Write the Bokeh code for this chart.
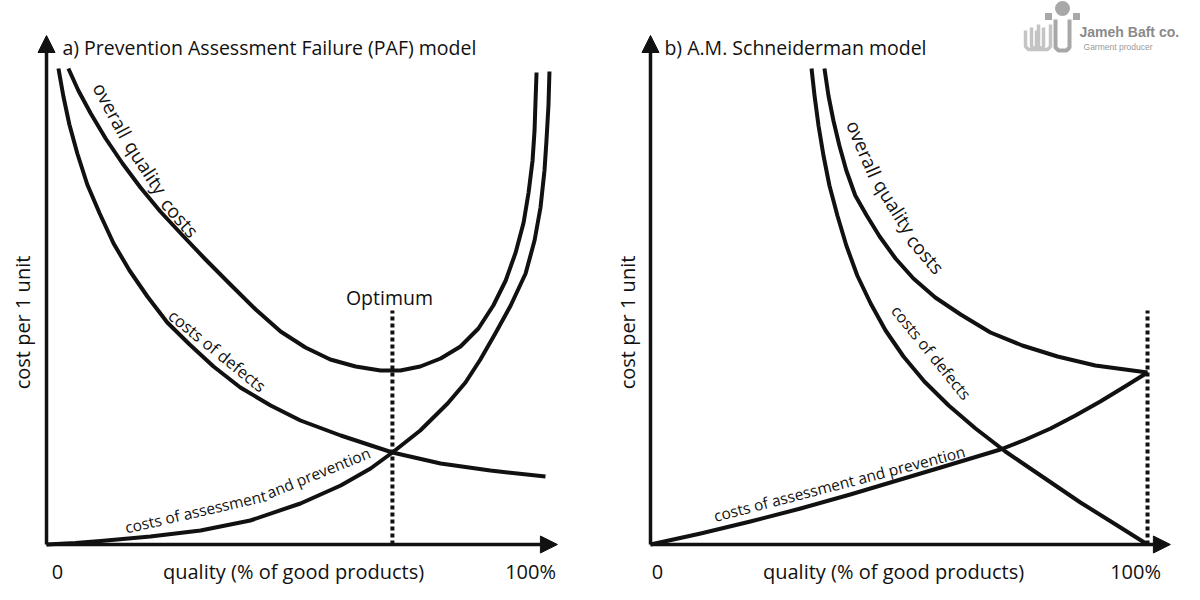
from bokeh.plotting import figure
from bokeh.models import Range1d, Arrow, NormalHead
from bokeh.layouts import row
from bokeh.embed import file_html
from bokeh.resources import INLINE
from bokeh.core.properties import value

FONT = "Open Sans"
INK = "#111111"

# ---------------- data (quality in %, cost in arbitrary units) ----------------
# Panel a) PAF model
a_defects_q = [2.4, 3.4, 4.6, 6.2, 8.2, 10.7, 13.5, 16.7, 20.3, 24.3, 28.8, 33.6, 39.0, 45.1, 51.1, 59.2, 69.6, 79.3, 89.3, 100.4]
a_defects_c = [95.2, 89.6, 84.0, 78.2, 72.0, 66.2, 60.2, 54.8, 49.6, 44.4, 40.0, 35.6, 31.4, 27.8, 24.8, 21.8, 18.4, 16.2, 14.8, 13.6]

a_overall_q = [4.4, 6.4, 8.9, 11.9, 15.3, 18.9, 22.9, 27.4, 32.0, 37.0, 42.1, 47.1, 52.1, 57.1, 62.2, 67.2, 71.2, 75.2, 79.3, 83.3, 86.9, 89.9, 92.4, 94.4, 96.0, 97.0, 97.8, 98.2, 98.4, 98.6]
a_overall_c = [95.2, 90.8, 86.2, 81.2, 76.2, 71.4, 66.6, 61.8, 57.0, 52.0, 47.0, 42.6, 39.4, 37.0, 35.6, 34.8, 34.8, 35.6, 37.2, 39.6, 43.2, 47.8, 52.8, 58.4, 64.4, 70.4, 76.8, 82.8, 88.8, 94.4]

a_assess_q = [0.0, 5.8, 10.9, 20.9, 31.0, 41.0, 51.1, 59.2, 65.2, 69.6, 75.2, 80.7, 84.3, 87.3, 90.3, 93.4, 96.4, 98.2, 99.4, 100.2, 100.6, 101.0, 101.2]
a_assess_c = [0.0, 0.3, 0.7, 1.6, 2.8, 4.8, 8.2, 11.8, 15.2, 18.4, 22.8, 28.2, 32.4, 37.0, 42.2, 47.8, 54.2, 60.8, 67.4, 74.8, 80.8, 87.8, 94.6]

a_optimum_q = 69.6

# Panel b) A.M. Schneiderman model
b_defects_q = [32.4, 33.0, 33.8, 34.8, 36.0, 37.6, 39.4, 41.6, 44.3, 47.3, 50.9, 55.1, 60.0, 65.4, 71.4, 78.5, 86.5, 93.6, 100.0]
b_defects_c = [95.2, 89.8, 83.8, 77.8, 71.8, 65.8, 59.8, 53.8, 48.2, 42.8, 37.6, 32.6, 27.8, 23.2, 18.6, 13.8, 8.4, 4.0, 0.0]

b_overall_q = [35.0, 35.8, 36.8, 38.0, 39.4, 41.2, 43.5, 46.1, 49.3, 52.9, 57.3, 62.4, 68.4, 74.8, 81.9, 89.5, 100.0]
b_overall_c = [95.2, 89.8, 84.8, 79.8, 74.8, 69.8, 65.8, 61.6, 57.2, 53.2, 49.4, 46.0, 42.4, 39.8, 37.6, 35.8, 34.4]

b_assess_q = [0.0, 10.1, 20.1, 30.2, 40.2, 50.3, 60.4, 70.4, 75.5, 80.5, 85.5, 90.5, 95.3, 100.0]
b_assess_c = [0.0, 2.2, 4.6, 7.2, 10.0, 13.0, 16.0, 19.0, 21.0, 23.2, 25.8, 28.6, 31.5, 34.4]

b_optimum_q = 100.0

# axis / label texts
titles = ["a) Prevention Assessment Failure (PAF) model", "b) A.M. Schneiderman model"]
y_title = "cost per 1 unit"
x_title = "quality (% of good products)"
x_ticks = ["0", "100%"]

# ---------------- layout ----------------
Y_RANGE = (-8.0, 108.8)
DOT_TOP = 46.8
ARROW_TOP = 101.8


def make_fig(xmin, xmax):
    p = figure(width=592, height=584, x_range=Range1d(xmin, xmax), y_range=Range1d(*Y_RANGE),
               output_backend="svg", toolbar_location=None,
               x_axis_location=None, y_axis_location=None,
               min_border=0, min_border_left=0, min_border_right=0,
               min_border_top=0, min_border_bottom=0)
    p.grid.visible = False
    p.outline_line_color = None
    p.background_fill_color = "white"
    p.border_fill_color = "white"
    return p


def axes(p, x_tip):
    for xe, ye in [(0, ARROW_TOP), (x_tip, 0)]:
        p.add_layout(Arrow(end=NormalHead(size=17, fill_color=INK, line_color=INK, line_width=1),
                           x_start=0, y_start=0, x_end=xe, y_end=ye,
                           line_width=3.5, line_color=INK))


def txt(p, x, y, s, size, angle=0, align="center", baseline="middle", color=INK,
        style="normal", font=FONT):
    p.text(x=[x], y=[y], text=[s], angle=[angle], angle_units="deg",
           text_font=value(font), text_font_size=f"{size}px", text_font_style=style,
           text_align=align, text_baseline=baseline, text_color=color)


LW = 4
DOT = dict(line_width=4, line_color=INK, line_dash="4 3")

# ---- panel a ----
pa = make_fig(-9.26, 109.86)
axes(pa, 102.8)
pa.line(a_defects_q, a_defects_c, line_width=LW, line_color=INK, line_join="round")
pa.line(a_overall_q, a_overall_c, line_width=LW, line_color=INK, line_join="round")
pa.line(a_assess_q, a_assess_c, line_width=LW, line_color=INK, line_join="round")
pa.line([a_optimum_q, a_optimum_q], [0, DOT_TOP], **DOT)

txt(pa, 3.2, 99.4, titles[0], 19.5, align="left")
txt(pa, -4.8, 44.4, y_title, 20, angle=90)
txt(pa, 2.2, -5.4, x_ticks[0], 20)
txt(pa, 49.7, -5.4, x_title, 20)
txt(pa, 97.4, -5.4, x_ticks[1], 20)
txt(pa, 69.0, 49.4, "Optimum", 19.5)
txt(pa, 13.2, 86.8, "overall", 19, angle=-62)
txt(pa, 20.0, 75.4, "quality", 19, angle=-57)
txt(pa, 26.8, 65.4, "costs", 19, angle=-49)
txt(pa, 34.4, 38.8, "costs of defects", 16.5, angle=-39)
txt(pa, 30.0, 6.6, "costs of assessment", 15.5, angle=13)
txt(pa, 54.7, 14.4, "and prevention", 15.5, angle=22)

# ---- panel b ----
pb = make_fig(-11.67, 107.44)
axes(pb, 104.6)
pb.line(b_defects_q, b_defects_c, line_width=LW, line_color=INK, line_join="round")
pb.line(b_overall_q, b_overall_c, line_width=LW, line_color=INK, line_join="round")
pb.line(b_assess_q, b_assess_c, line_width=LW, line_color=INK, line_join="round")
pb.line([b_optimum_q, b_optimum_q], [0, DOT_TOP], **DOT)

txt(pb, 2.8, 99.4, titles[1], 19.5, align="left")
txt(pb, -4.6, 44.4, y_title, 20, angle=90)
txt(pb, 1.4, -5.4, x_ticks[0], 20)
txt(pb, 48.9, -5.4, x_title, 20)
txt(pb, 97.6, -5.4, x_ticks[1], 20)
txt(pb, 42.9, 79.1, "overall", 19, angle=-67)
txt(pb, 49.1, 67.6, "quality", 19, angle=-58)
txt(pb, 55.3, 58.1, "costs", 19, angle=-49)
txt(pb, 56.5, 38.4, "costs of defects", 16, angle=-51)
txt(pb, 38.0, 12.2, "costs of assessment and prevention", 15.5, angle=14.6)

# ---- watermark logo (top right), positioned in page pixels ----
LOGO_DX = -10


def bx(px):
    return (px + LOGO_DX - 650) / 4.97


def by(py):
    return (544 - py) / 5.0


def ushape(xl, xr, top, bot):
    xs = [xl, xl, xl + 3, xr - 3, xr, xr]
    ys = [top, bot - 3, bot, bot, bot - 3, top]
    return [bx(v) for v in xs], [by(v) for v in ys]


LIGHT = "#c4c4c4"
MID = "#a8a8a8"
us = [ushape(1035, 1046, 30, 49), ushape(1041, 1053, 27, 49), ushape(1048, 1060, 24, 49)]
pb.multi_line([u[0] for u in us], [u[1] for u in us], line_color=LIGHT, line_width=3.5)
bars = [ushape(1065, 1079, 19, 50)]
pb.multi_line([b[0] for b in bars], [b[1] for b in bars], line_color=MID, line_width=4)
pb.scatter([bx(1072)], [by(8)], marker="circle", size=15, fill_color=MID, line_color=None)
pb.scatter([bx(1058), bx(1086)], [by(16), by(16)], marker="square", size=7, fill_color=MID, line_color=None)
txt(pb, bx(1089), by(31), "Jameh Baft co.", 14, align="left", color="#8a8a8a", style="bold",
    font="Liberation Sans")
txt(pb, bx(1093), by(46), "Garment producer", 8.5, align="left", color="#9a9a9a",
    font="Liberation Sans")

layout = row(pa, pb, spacing=0)
open("out.html", "w").write(file_html(layout, INLINE))
